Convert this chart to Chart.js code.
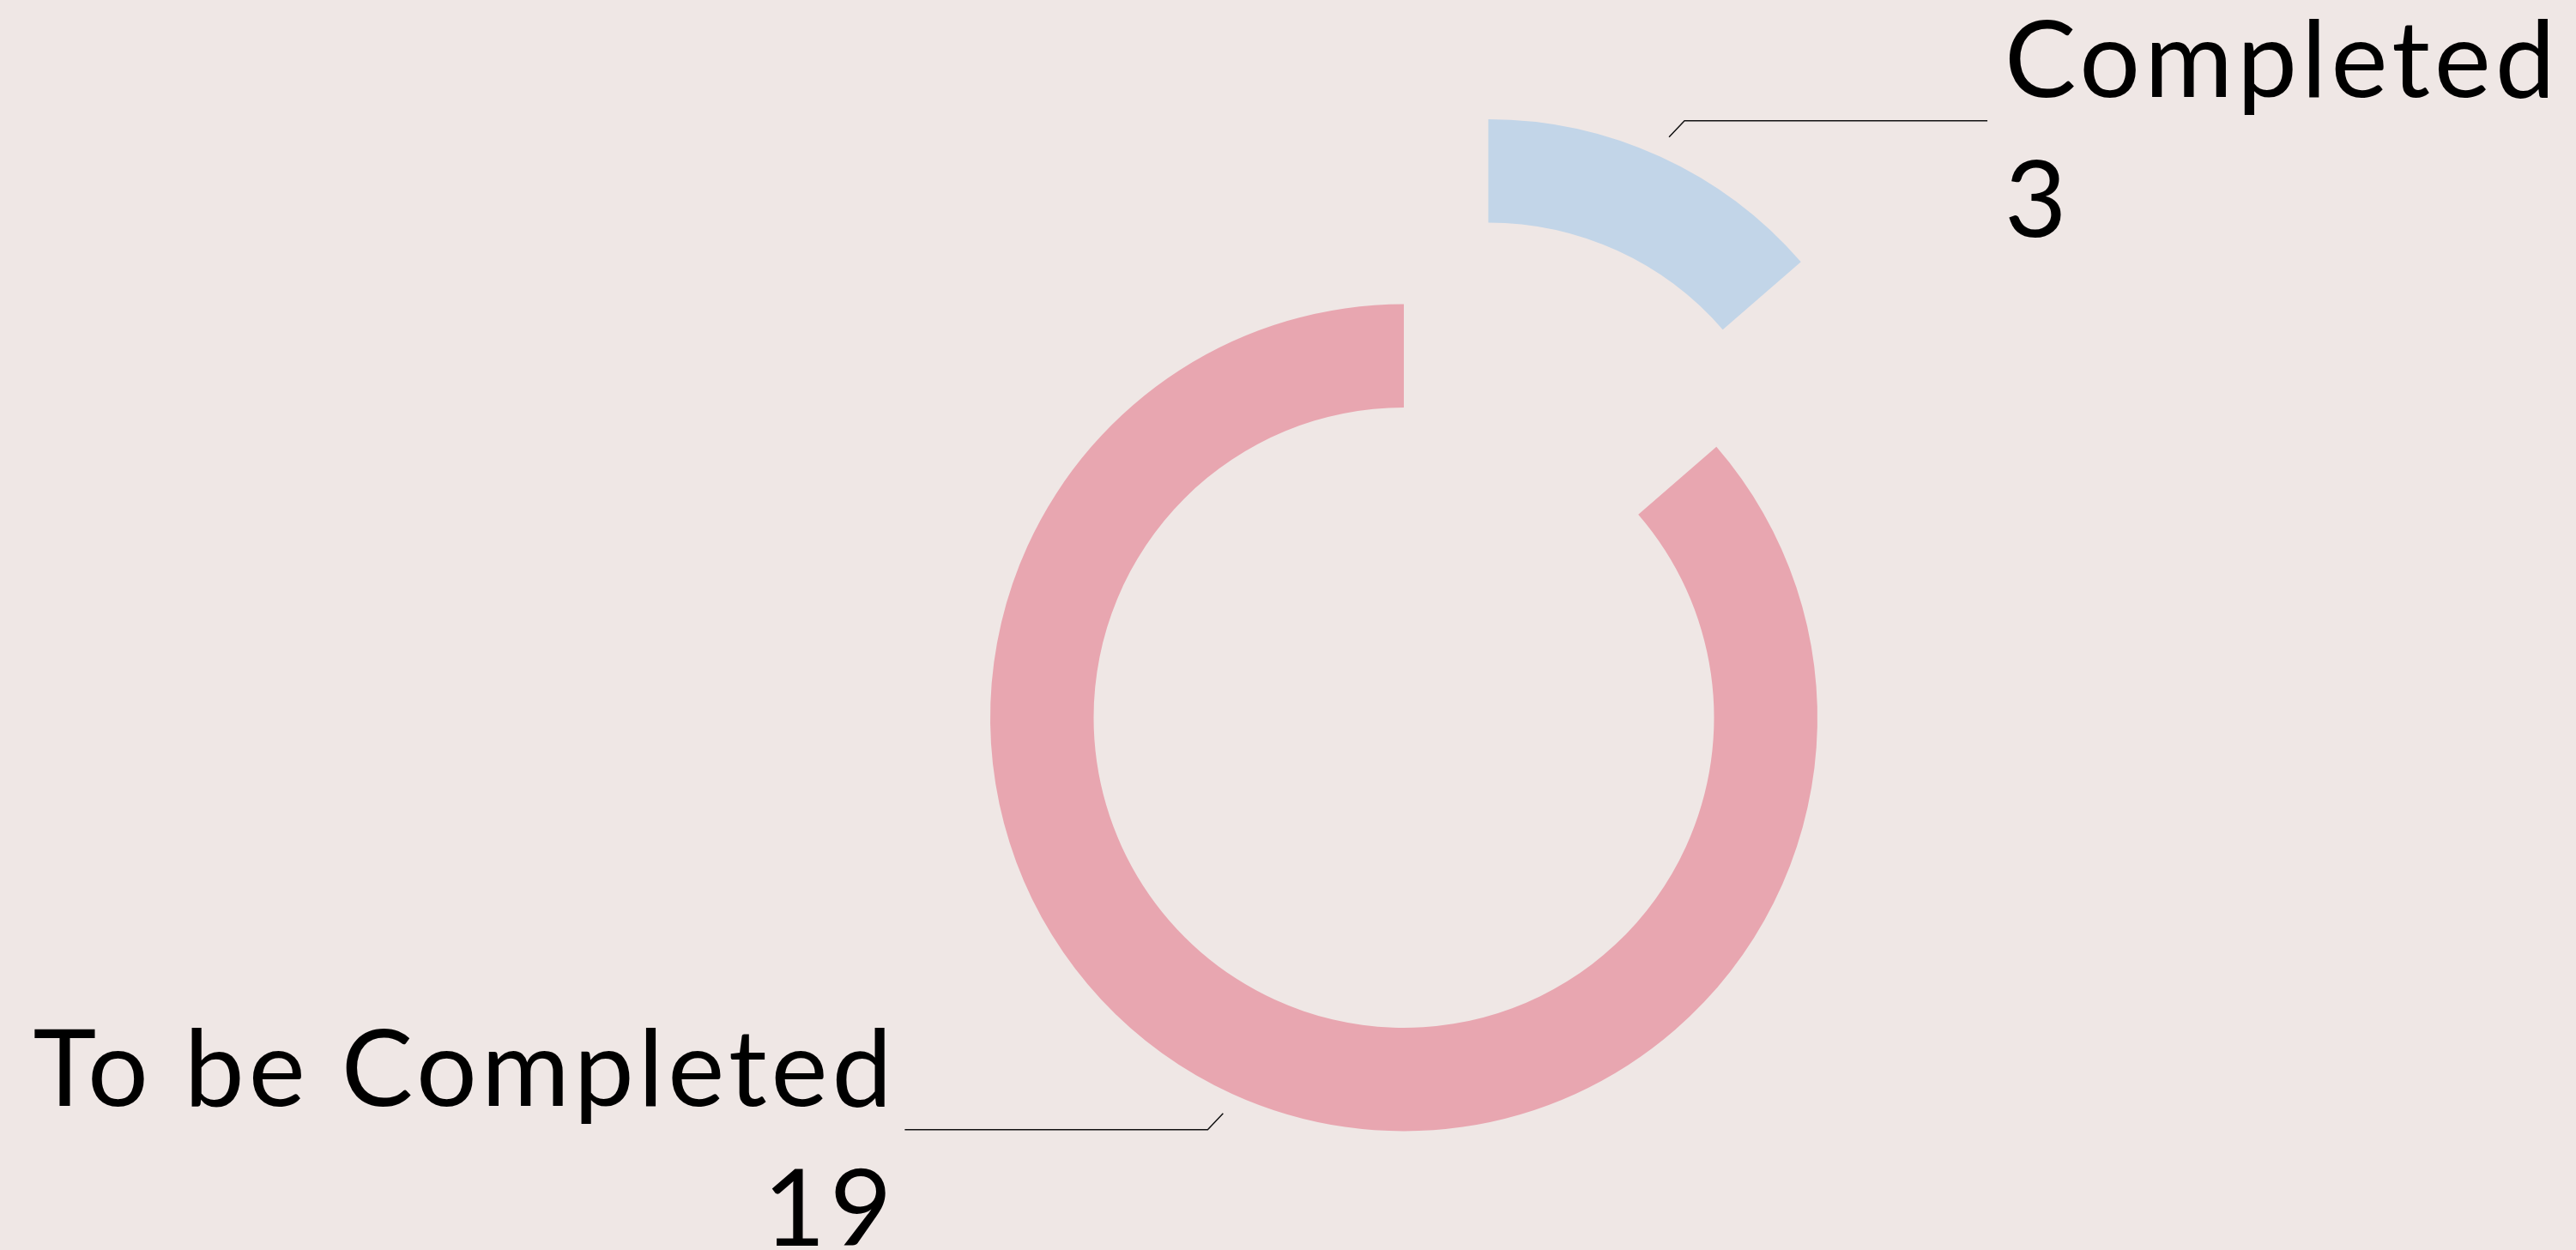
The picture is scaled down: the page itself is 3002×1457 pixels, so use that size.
<!DOCTYPE html>
<html>
<head>
<meta charset="utf-8">
<script src="https://cdn.jsdelivr.net/npm/chart.js@4.4.1/dist/chart.umd.min.js"></script>
<style>
  html, body { margin: 0; padding: 0; background: #efe7e5; }
  #wrap { width: 3002px; height: 1457px; position: relative; }
</style>
</head>
<body>
<div id="wrap"><canvas id="progress-chart"></canvas></div>
<script>
const labels = ["Completed", "To be Completed"];
const counts = [3, 19];
const sliceColors = ["#c2d5e8", "#e8a6b0"];

// how far each slice is pulled out along its bisector (px)
const explodeBy = [237, 0];

const explodePlugin = {
  id: "explode",
  afterDatasetUpdate(chart, args) {
    const meta = chart.getDatasetMeta(args.index);
    meta.data.forEach((arc, i) => {
      const off = explodeBy[i] || 0;
      if (!off) return;
      const mid = (arc.startAngle + arc.endAngle) / 2;
      arc.x += Math.cos(mid) * off;
      arc.y += Math.sin(mid) * off;
    });
  },
};

const leaderPlugin = {
  id: "leaders",
  afterDatasetsDraw(chart) {
    const { ctx } = chart;
    const meta = chart.getDatasetMeta(0);
    ctx.save();
    ctx.strokeStyle = "#111";
    ctx.lineWidth = 1.5;
    ctx.fillStyle = "#000";
    ctx.font = "400 125px Lato";
    ctx.letterSpacing = "5px";
    ctx.textBaseline = "alphabetic";
    meta.data.forEach((arc, i) => {
      const mid = (arc.startAngle + arc.endAngle) / 2;
      const cos = Math.cos(mid);
      const sin = Math.sin(mid);
      const sx = cos >= 0 ? 1 : -1;
      const sy = sin >= 0 ? 1 : -1;
      const x0 = arc.x + cos * (arc.outerRadius + 25);
      const y0 = arc.y + sin * (arc.outerRadius + 25);
      const x1 = x0 + sx * 18;
      const y1 = y0 + sy * 19;
      const x2 = x1 + sx * 353;
      ctx.beginPath();
      ctx.moveTo(x0, y0);
      ctx.lineTo(x1, y1);
      ctx.lineTo(x2, y1);
      ctx.stroke();
      // right-aligned text carries the trailing letter spacing, so pull it in a bit
      ctx.textAlign = sx > 0 ? "left" : "right";
      const tx = sx > 0 ? x2 + 20 : x2 - 15 + 5;
      ctx.fillText(labels[i], tx, y1 - 28);
      ctx.fillText(String(counts[i]), tx, y1 + 135);
    });
    ctx.restore();
  },
};

new Chart(document.getElementById("progress-chart"), {
  type: "doughnut",
  data: {
    labels,
    datasets: [{
      data: counts,
      backgroundColor: sliceColors,
      borderWidth: 0,
      hoverOffset: 0,
    }],
  },
  options: {
    responsive: true,
    maintainAspectRatio: false,
    animation: false,
    events: [],
    radius: 482,
    cutout: "75%",
    layout: { padding: { left: 270, right: 0, top: 216, bottom: 0 } },
    plugins: {
      legend: { display: false },
      tooltip: { enabled: false },
    },
  },
  plugins: [explodePlugin, leaderPlugin],
});
</script>
</body>
</html>
